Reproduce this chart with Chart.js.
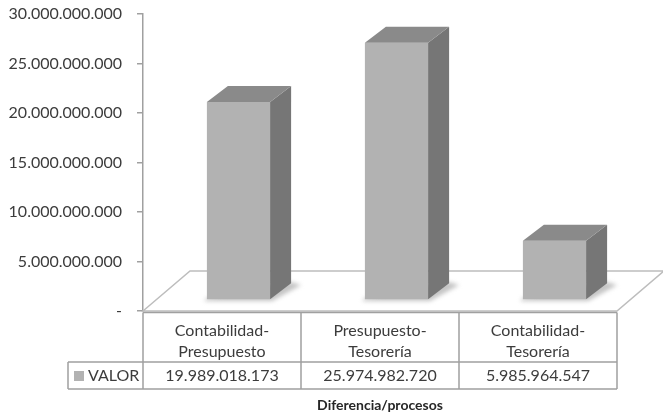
<!DOCTYPE html>
<html>
<head>
<meta charset="utf-8">
<style>
  html, body { margin: 0; padding: 0; background: #fff; }
  #chart { display: block; filter: blur(0.5px); }
</style>
<script src="https://cdn.jsdelivr.net/npm/chart.js@4"></script>
</head>
<body>
<canvas id="chart" width="663" height="417"></canvas>
<script>
const categories = ["Contabilidad-Presupuesto", "Presupuesto-Tesorería", "Contabilidad-Tesorería"];
const seriesName = "VALOR";
const values = [19989018173, 25974982720, 5985964547];
const axisTitle = "Diferencia/procesos";

const fontFamily = "Lato, 'Open Sans', sans-serif";
const textColor = "#3c3c3c";
const lineColor = "#a0a0a0";

const barShift = { x: 16.5, y: -11 };
const barDepth = { x: 21, y: -16 };
const floorDepth = { x: 47, y: -40 };

function dotted(n) {
  return String(n).replace(/\B(?=(\d{3})+$)/g, ".");
}

function poly(ctx, pts, fill) {
  ctx.beginPath();
  pts.forEach((p, i) => (i ? ctx.lineTo(p[0], p[1]) : ctx.moveTo(p[0], p[1])));
  ctx.closePath();
  if (fill) {
    ctx.fillStyle = fill;
    ctx.fill();
  }
}

const box3d = {
  id: "box3d",
  beforeDatasetsDraw(chart) {
    const { ctx, chartArea: a } = chart;
    const y0 = chart.scales.y.getPixelForValue(0);
    // floor of the 3d box
    ctx.save();
    poly(ctx, [
      [a.left, y0],
      [a.left + floorDepth.x, y0 + floorDepth.y],
      [a.right + floorDepth.x, y0 + floorDepth.y],
      [a.right, y0]
    ]);
    ctx.strokeStyle = "#bdbdbd";
    ctx.lineWidth = 1.5;
    ctx.stroke();
    // soft shadow at the foot of each bar
    ctx.filter = "blur(2px)";
    chart.getDatasetMeta(0).data.forEach((bar) => {
      const l = bar.x - bar.width / 2 + barShift.x;
      const r = bar.x + bar.width / 2 + barShift.x;
      const b = y0 + barShift.y;
      poly(ctx, [
        [l - 3, b + 1],
        [r + 2, b + 1],
        [r + barDepth.x + 10, b + barDepth.y + 1],
        [r + barDepth.x, b + barDepth.y - 2],
        [l, b - 2]
      ], "#c4c4c4");
    });
    ctx.restore();
  },
  beforeDatasetDraw(chart) {
    chart.ctx.save();
    chart.ctx.translate(barShift.x, barShift.y);
  },
  afterDatasetDraw(chart) {
    const ctx = chart.ctx;
    chart.getDatasetMeta(0).data.forEach((bar) => {
      const l = bar.x - bar.width / 2;
      const r = bar.x + bar.width / 2;
      poly(ctx, [
        [r, bar.y],
        [r + barDepth.x, bar.y + barDepth.y],
        [r + barDepth.x, bar.base + barDepth.y],
        [r, bar.base]
      ], "#767676");
      poly(ctx, [
        [l, bar.y],
        [l + barDepth.x, bar.y + barDepth.y],
        [r + barDepth.x, bar.y + barDepth.y],
        [r, bar.y]
      ], "#8a8a8a");
    });
    ctx.restore();
  }
};

const dataTable = {
  id: "dataTable",
  afterDraw(chart) {
    const { ctx, chartArea: a, scales } = chart;
    const y0 = scales.y.getPixelForValue(0);
    const top = y0 + 1.5;
    const rowMid = y0 + 51;
    const rowBottom = y0 + 78;
    const legendLeft = 68;
    const step = (a.right - a.left) / categories.length;

    ctx.save();
    ctx.strokeStyle = lineColor;
    ctx.lineWidth = 1.5;
    ctx.beginPath();
    ctx.moveTo(a.left, top);
    ctx.lineTo(a.right, top);
    ctx.moveTo(legendLeft, rowMid);
    ctx.lineTo(a.right, rowMid);
    ctx.moveTo(legendLeft, rowBottom);
    ctx.lineTo(a.right, rowBottom);
    ctx.moveTo(legendLeft, rowMid);
    ctx.lineTo(legendLeft, rowBottom);
    for (let i = 0; i <= categories.length; i++) {
      const x = a.left + i * step;
      ctx.moveTo(x, top);
      ctx.lineTo(x, rowBottom);
    }
    ctx.stroke();

    ctx.font = "16px " + fontFamily;
    ctx.fillStyle = textColor;
    ctx.textBaseline = "middle";
    ctx.textAlign = "center";
    values.forEach((v, i) => {
      ctx.fillText(dotted(v), scales.x.getPixelForValue(i), rowMid + 14);
    });
    ctx.fillStyle = "#b2b2b2";
    ctx.fillRect(74, rowMid + 9, 10, 10);
    ctx.fillStyle = textColor;
    ctx.textAlign = "left";
    ctx.fillText(seriesName, 88, rowMid + 14);
    ctx.restore();
  }
};

new Chart(document.getElementById("chart").getContext("2d"), {
  type: "bar",
  data: {
    labels: categories,
    datasets: [{
      label: seriesName,
      data: values,
      backgroundColor: "#b2b2b2",
      barPercentage: 0.4,
      categoryPercentage: 1
    }]
  },
  options: {
    responsive: false,
    animation: false,
    layout: { padding: { top: 14, right: 46, left: 0, bottom: 0 } },
    plugins: { legend: { display: false }, tooltip: { enabled: false } },
    scales: {
      x: {
        afterFit(scale) { scale.height = 106; },
        grid: { display: false },
        border: { display: false },
        title: {
          display: true,
          text: axisTitle,
          color: "#262626",
          font: { family: fontFamily, size: 14, weight: "bold" },
          padding: { top: 8, bottom: 3 }
        },
        ticks: {
          color: textColor,
          padding: 1,
          maxRotation: 0,
          font: { family: fontFamily, size: 16, lineHeight: 1.31 },
          callback(value) {
            const parts = categories[value].split("-");
            return [parts[0] + "-", parts[1]];
          }
        }
      },
      y: {
        min: 0,
        max: 30000000000,
        afterFit(scale) {
          // tick padding would otherwise shrink the plot height
          scale.width = 143;
          scale.paddingTop = 0;
          scale.paddingBottom = 0;
        },
        grid: { drawOnChartArea: false, color: lineColor, lineWidth: 1.5, tickLength: 6 },
        border: { color: lineColor, width: 1.5 },
        ticks: {
          stepSize: 5000000000,
          color: textColor,
          padding: 15,
          font: { family: fontFamily, size: 16 },
          callback(value) { return value === 0 ? "-" : dotted(value); }
        }
      }
    }
  },
  plugins: [box3d, dataTable]
});
</script>
</body>
</html>
